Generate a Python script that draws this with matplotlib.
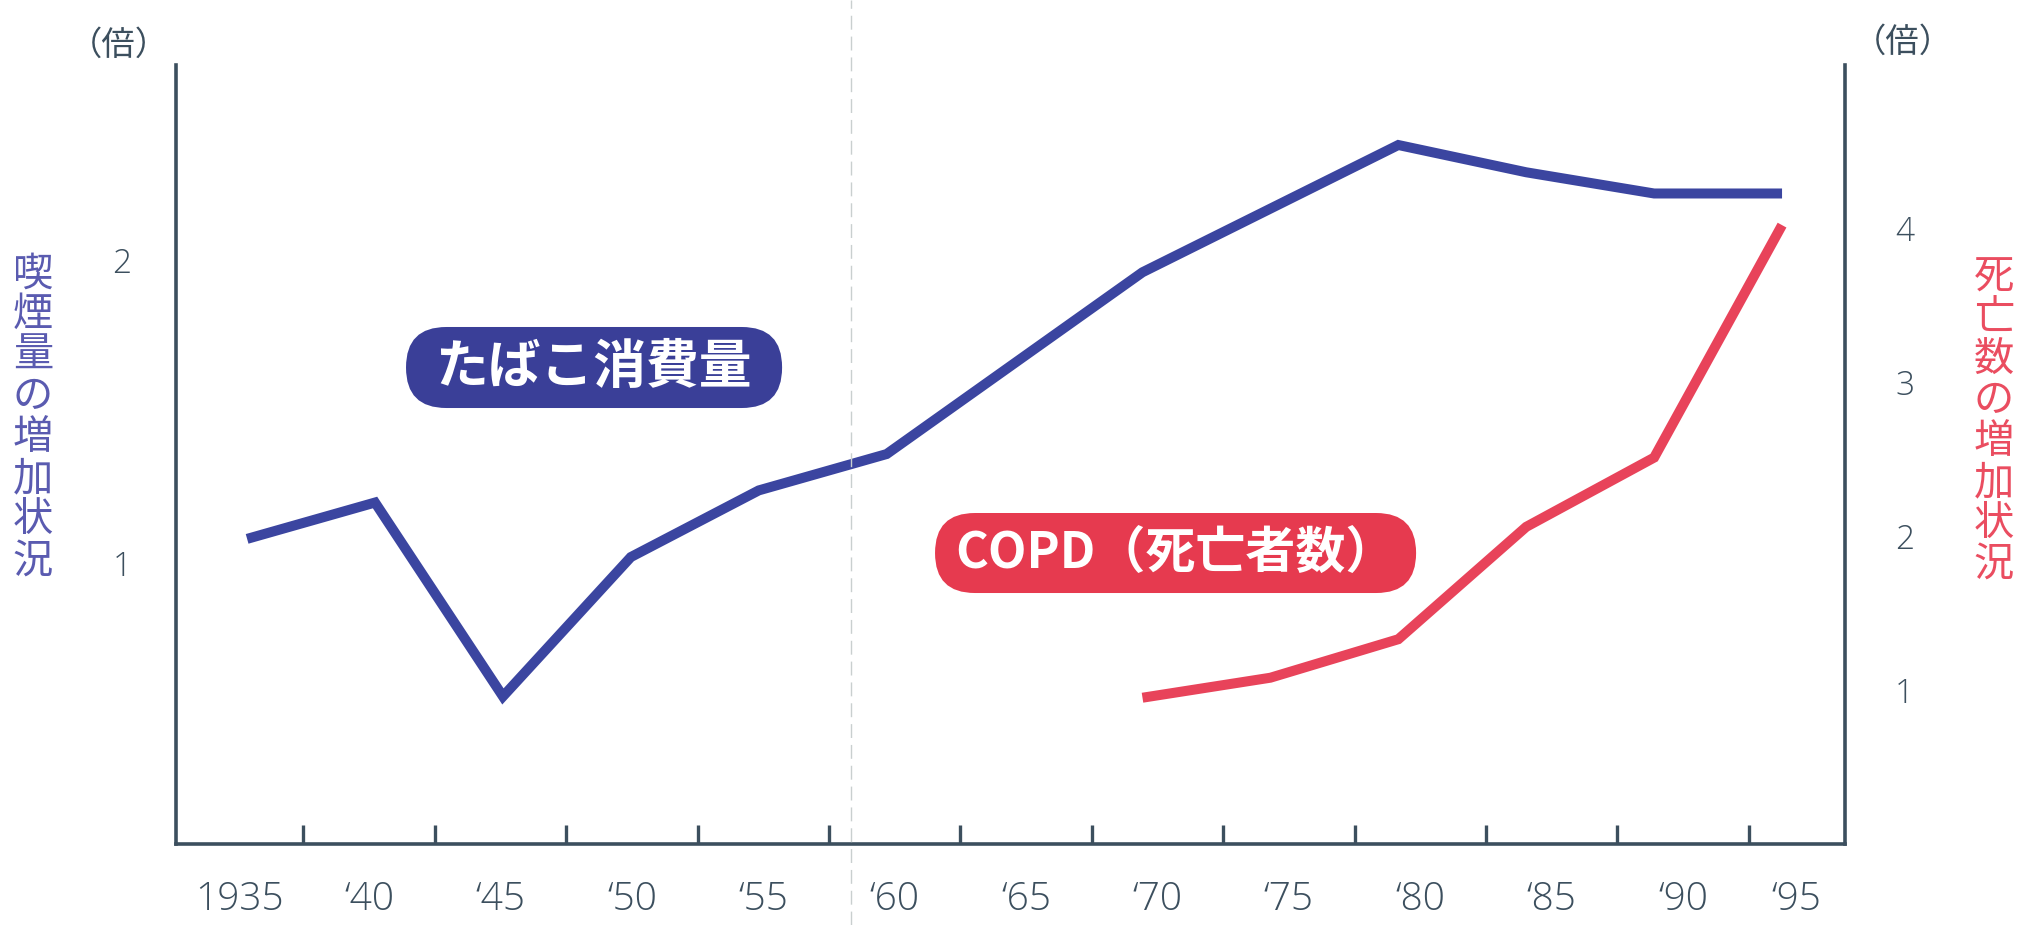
import numpy as np
import matplotlib.pyplot as plt
from matplotlib.patches import FancyBboxPatch
from matplotlib.lines import Line2D

# tobacco consumption (left axis, times)
smoke_years = [1935, 1940, 1945, 1950, 1955, 1960, 1970, 1980, 1985, 1990, 1995]
smoke = [1.08, 1.20, 0.56, 1.02, 1.24, 1.36, 1.96, 2.38, 2.29, 2.22, 2.22]

# COPD deaths (right axis, times)
copd_years = [1970, 1975, 1980, 1985, 1990, 1995]
copd = [0.95, 1.08, 1.33, 2.06, 2.51, 4.02]

x_labels = ["1935", "‘40", "‘45", "‘50", "‘55", "‘60", "‘65",
            "‘70", "‘75", "‘80", "‘85", "‘90", "‘95"]
left_ticks = [1, 2]
right_ticks = [1, 2, 3, 4]

axis_col = "#3c4f5e"
blue = "#3b45a0"
red = "#e8435a"
cjk = ["Noto Sans CJK JP", "DejaVu Sans"]
num_font = ["Open Sans", "Noto Sans CJK JP", "DejaVu Sans"]

fig = plt.figure(figsize=(20.23, 9.25), dpi=100)
ax = fig.add_axes([0.087, 0.0876, 0.825, 0.8421])
ax2 = ax.twinx()

ax.set_xlim(1932.22, 1997.46)
ax.set_ylim(0.073, 2.644)
ax2.set_ylim(0, 5.06)

ax.plot(smoke_years, smoke, color=blue, lw=7.2,
        solid_capstyle="butt", solid_joinstyle="miter", zorder=3)
ax2.plot(copd_years, copd, color=red, lw=7.2,
         solid_capstyle="butt", solid_joinstyle="miter", zorder=3)

# spines
for s in ["top", "right"]:
    ax.spines[s].set_visible(False)
for s in ["top", "left", "bottom"]:
    ax2.spines[s].set_visible(False)
for sp in [ax.spines["left"], ax.spines["bottom"], ax2.spines["right"]]:
    sp.set_color(axis_col)
    sp.set_linewidth(2.6)

# x ticks: marks between years, labels in the slots
edges = np.linspace(1937.2, 1993.7, 12)
bounds = np.concatenate([[ax.get_xlim()[0]], edges, [ax.get_xlim()[1]]])
mids = (bounds[:-1] + bounds[1:]) / 2
ax.set_xticks(edges)
ax.set_xticklabels([])
ax.tick_params(axis="x", which="major", direction="in", length=13.7,
               width=2.4, color=axis_col)
ax.set_xticks(mids, minor=True)
ax.set_xticklabels(x_labels, minor=True, fontsize=28, color=axis_col,
                   family=num_font, weight="light")
ax.tick_params(axis="x", which="minor", length=0, pad=26)

ax.set_yticks(left_ticks)
ax.set_yticklabels([str(t) for t in left_ticks], fontsize=24,
                   color=axis_col, family=num_font, weight="light")
ax.tick_params(axis="y", length=0, pad=32)
ax2.set_yticks(right_ticks)
ax2.set_yticklabels([str(t) for t in right_ticks], fontsize=24,
                    color=axis_col, family=num_font, weight="light")
ax2.tick_params(axis="y", length=0, pad=36)

# unit marks and axis titles
fig.text(0.0588, 0.951, "（倍）", ha="center", va="center", fontsize=24,
         color=axis_col, family=cjk)
fig.text(0.9407, 0.9546, "（倍）", ha="center", va="center", fontsize=24,
         color=axis_col, family=cjk)
fig.text(0.0163, 0.549, "\n".join("喫煙量の増加状況"), ha="center", va="center",
         fontsize=29, linespacing=1.0, color="#5a5bb0", family=cjk)
fig.text(0.9857, 0.545, "\n".join("死亡数の増加状況"), ha="center", va="center",
         fontsize=29, linespacing=1.0, color="#ea4d60", family=cjk)

# pill shaped series labels
asp = 2023 / 925
fig.patches.append(FancyBboxPatch((0.2007, 0.5589), 0.1859, 0.0876,
                                  boxstyle="round,pad=0,rounding_size=0.0199",
                                  mutation_aspect=asp, transform=fig.transFigure,
                                  facecolor="#3a3f98", edgecolor="none", zorder=4))
fig.text(0.2936, 0.6027, "たばこ消費量", ha="center", va="center", fontsize=38,
         weight="bold", color="white", family=cjk, zorder=5)
fig.patches.append(FancyBboxPatch((0.4622, 0.3589), 0.2378, 0.0865,
                                  boxstyle="round,pad=0,rounding_size=0.0197",
                                  mutation_aspect=asp, transform=fig.transFigure,
                                  facecolor="#e63a4f", edgecolor="none", zorder=4))
fig.text(0.5811, 0.4022, "COPD（死亡者数）", ha="center", va="center", fontsize=36,
         weight="bold", color="white", family=cjk, zorder=5)

# faint page fold of the scan
fig.lines.append(Line2D([0.4205, 0.4205], [0, 1], transform=fig.transFigure,
                        color="#c9cfcf", lw=1, ls=(0, (10, 5)), zorder=1))

fig.savefig("out.png", dpi=100)
